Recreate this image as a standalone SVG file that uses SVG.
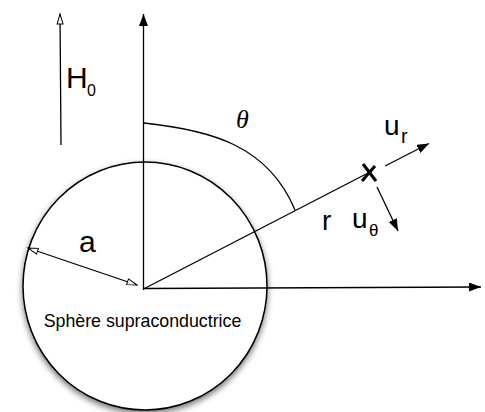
<svg xmlns="http://www.w3.org/2000/svg" width="485" height="412" viewBox="0 0 485 412">
<style>
.ln{stroke:#000;stroke-width:1.3;fill:none}
.t{font-family:"Liberation Sans",Arial,sans-serif;fill:#000}
</style>
<defs>
<filter id="sh" x="-20%" y="-20%" width="140%" height="140%">
<feDropShadow dx="0" dy="3" stdDeviation="3" flood-color="#000" flood-opacity="0.55"/>
</filter>
<marker id="fa" markerUnits="userSpaceOnUse" markerWidth="14" markerHeight="10" refX="12" refY="4.5" orient="auto">
<path d="M0,0 L12,4.5 L0,9 z" fill="#000"/>
</marker>
<marker id="oa" markerUnits="userSpaceOnUse" markerWidth="14" markerHeight="10" refX="11" refY="4" orient="auto-start-reverse">
<path d="M1,1 L11,4 L1,7 z" fill="#fff" stroke="#000" stroke-width="1"/>
</marker>
</defs>
<g id="sphere">
<ellipse cx="145" cy="286" rx="122" ry="124" fill="#fff" stroke="#000" stroke-width="1.5" filter="url(#sh)"/>
<text class="t" x="142.5" y="327" font-size="17.8" text-anchor="middle">Sphère supraconductrice</text>
</g>
<g id="connectors">
<line class="ln" x1="143.5" y1="290" x2="143.5" y2="14" marker-end="url(#fa)"/>
<line class="ln" x1="143.5" y1="288.5" x2="481" y2="287" marker-end="url(#fa)"/>
<line class="ln" x1="61" y1="145" x2="60" y2="14" marker-end="url(#oa)"/>
<line class="ln" x1="28" y1="248" x2="137" y2="285" marker-start="url(#oa)" marker-end="url(#oa)"/>
<path class="ln" d="M144,123 C210,130 268,145 295,210"/>
<line class="ln" x1="143.5" y1="289" x2="370" y2="172"/>
<line class="ln" x1="385" y1="166" x2="429" y2="143.5" marker-end="url(#fa)"/>
<line class="ln" x1="377" y1="187" x2="398" y2="231" marker-end="url(#fa)"/>
</g>
<g id="point">
<line x1="363" y1="164" x2="376" y2="181" stroke="#000" stroke-width="3"/>
<line x1="375" y1="166" x2="362" y2="181" stroke="#000" stroke-width="3"/>
</g>
<g id="labels">
<text class="t" x="66" y="88" font-size="30">H</text>
<text class="t" x="87" y="96" font-size="16">0</text>
<text x="236" y="128" font-size="26" font-style="italic" font-family="'Liberation Serif','Times New Roman',serif">θ</text>
<text class="t" x="384" y="135" font-size="28">u</text>
<text class="t" x="401" y="143" font-size="20">r</text>
<text class="t" x="322" y="230" font-size="28">r</text>
<text class="t" x="352" y="228" font-size="28">u</text>
<text class="t" x="369" y="236" font-size="17">θ</text>
<text class="t" x="79" y="252" font-size="30">a</text>
</g>
</svg>
